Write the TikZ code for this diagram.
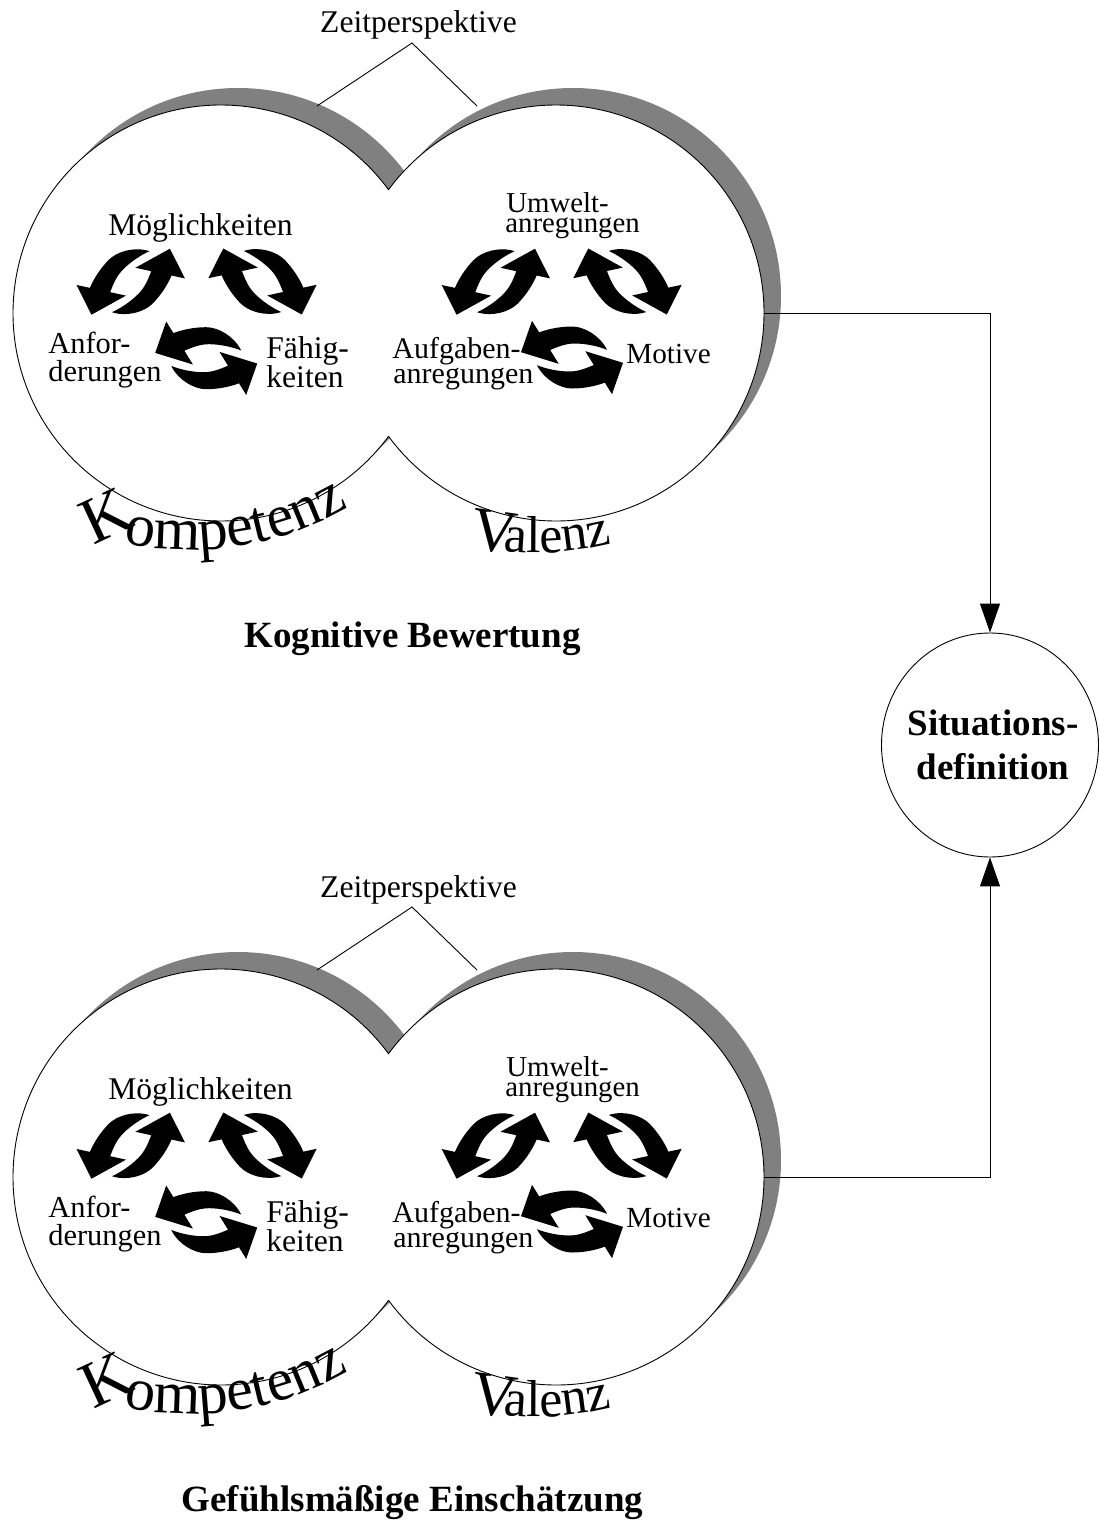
\documentclass[tikz,border=0pt]{standalone}
\usepackage{fontspec}
\setmainfont{Liberation Serif}
\usetikzlibrary{arrows.meta,shapes.geometric,decorations.text}
\definecolor{shadowgray}{gray}{0.5}
\tikzset{
  x=0.5pt, y=-0.5pt,
  lbl/.style={font=\fontsize{#1}{#1}\selectfont, inner sep=0pt},
  lbl/.default=15.5,
  wordart/.style={font=\fontsize{#1}{#1}\selectfont, inner sep=0pt, anchor=center},
  wordart/.default=30,
  arched/.style 2 args={decorate, decoration={text along path, text align=left, text={|\fontsize{#1}{#1}\selectfont|#2}}},
  title/.style={font=\fontsize{18.5}{22}\selectfont\bfseries, inner sep=0pt, anchor=base},
  rim/.style={line width=0.45pt},
  link/.style={line width=0.5pt, -{Triangle[length=14.5pt,width=10pt]}},
}

% one thick curved arrow: tapered tail on the right, broad head on the left
\newcommand\halfcycle{%
  \fill (35,7.7) .. controls (28,22) and (12,31) .. (0,31)
        .. controls (-12,31) and (-24,28.5) .. (-32.8,25.1)
        -- (-40,36.7) -- (-51,5.3) -- (-13.3,-6.3) -- (-21.8,7.5)
        .. controls (-13,11.2) and (-6,14) .. (3,14)
        .. controls (14,14) and (27,11) .. (35,7.7) -- cycle;}
% two arrows chasing each other round a centre
\newcommand\cyclepair{%
  \halfcycle
  \begin{scope}[rotate=180]\halfcycle\end{scope}}

% the two overlapping discs with their labels; #1 name prefix, #2 vertical offset, #3 caption
\newcommand\motivgroup[3]{%
  \begin{scope}[shift={(0,#2)}]
    \node[circle, minimum size=208pt, inner sep=0pt] (#1komp) at (221,313) {};
    \node[circle, minimum size=208pt, inner sep=0pt] (#1val) at (556,313) {};
    % drop shadows
    \fill[shadowgray] (238,296) circle[radius=104pt] (573,296) circle[radius=104pt];
    % white discs
    \fill[white] (221,313) circle[radius=104pt] (556,313) circle[radius=104pt];
    % outer outline of the merged discs
    \draw[rim] ([shift={(36.3:104pt)}]221,313) arc[start angle=36.3, end angle=323.7, radius=104pt];
    \draw[rim] ([shift={(-143.7:104pt)}]556,313) arc[start angle=-143.7, end angle=143.7, radius=104pt];
    % time perspective bracket
    \node[lbl=15.8, anchor=base] (#1zeit) at (418.5,33) {Zeitperspektive};
    \coordinate (#1apex) at (412,43);
    \coordinate (#1zl) at (317,106);
    \coordinate (#1zr) at (477,106);
    \draw[rim] (#1zl) -- (#1apex) -- (#1zr);
    % competence disc
    \node[lbl=15.8, anchor=base] (#1moeg) at (200.5,235.5) {Möglichkeiten};
    \node[lbl=15.2, anchor=base west] (#1anf) at (48,353) {Anfor-};
    \node[lbl=15.2, anchor=base west] (#1der) at (48,381) {derungen};
    \node[lbl=15.8, anchor=base west] (#1faeh) at (266,358) {Fähig-};
    \node[lbl=15.8, anchor=base west] (#1keit) at (266,387) {keiten};
    \begin{scope}[shift={(130.7,281.7)}, rotate=46, yscale=-1]\cyclepair\end{scope}
    \begin{scope}[shift={(262.5,281.5)}, xscale=-1, rotate=46, yscale=-1]\cyclepair\end{scope}
    \begin{scope}[shift={(206.2,358.2)}, yscale=-1]\cyclepair\end{scope}
    % valence disc
    \node[lbl=14.4, anchor=base west] (#1umw) at (506,212) {Umwelt-};
    \node[lbl=14.4, anchor=base west] (#1anr) at (505,232) {anregungen};
    \node[lbl=15, anchor=base west] (#1aufg) at (392,358) {Aufgaben-};
    \node[lbl=15, anchor=base west] (#1aufa) at (393,383) {anregungen};
    \node[lbl=14.6, anchor=base west] (#1mot) at (626,363) {Motive};
    \begin{scope}[shift={(495.8,281.7)}, rotate=46, yscale=-1]\cyclepair\end{scope}
    \begin{scope}[shift={(627.5,281.5)}, xscale=-1, rotate=46, yscale=-1]\cyclepair\end{scope}
    \begin{scope}[shift={(572,357.5)}, yscale=-1]\cyclepair\end{scope}
    % arched lettering under the discs
    \node[wordart=33, rotate=25] (#1kK) at (106,516) {K};
    \path[arched={30}{ompetenz}] ([shift={(258.2:160pt)}]189,230) arc[start angle=258.2, end angle=312, radius=160pt];
    \node[wordart=31, rotate=-8] (#1vV) at (494,532) {V};
    \path[arched={26}{alenz}] ([shift={(264.3:160pt)}]535,233) arc[start angle=264.3, end angle=300, radius=160pt];
    % caption
    \node[title] (#1cap) at (412.5,647) {#3};
  \end{scope}}

\begin{document}
\begin{tikzpicture}
  \useasboundingbox (0,0) rectangle (1099,1520);
  \fill[white] (0,0) rectangle (1099,1520);
  \motivgroup{top}{0}{Kognitive Bewertung}
  \motivgroup{bot}{864}{Gefühlsmäßige Einschätzung}
  % situation definition
  \node[draw, rim, ellipse, minimum width=108.5pt, minimum height=112pt, inner sep=0pt] (sit) at (990,745) {};
  \node[title, anchor=center, align=center] (sittxt) at (993,745) {Situations-\\definition};
  \draw[link] (topval.east) -| (sit.north);
  \draw[link] (botval.east) -| (sit.south);
\end{tikzpicture}
\end{document}
